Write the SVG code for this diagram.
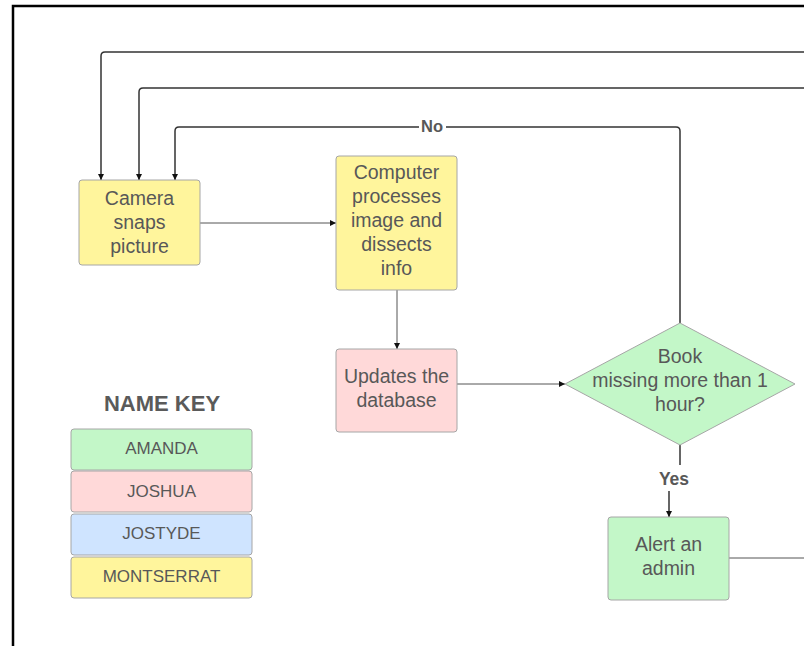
<svg xmlns="http://www.w3.org/2000/svg" width="804" height="646" viewBox="0 0 804 646">
  <style>
    .node { stroke: #a6a6a6; stroke-width: 1; }
    .yellow { fill: #fff59c; }
    .pink { fill: #ffd9d9; }
    .green { fill: #c3f7c8; }
    .blue { fill: #cfe4ff; }
    .label { font-family: "Liberation Sans", Arial, sans-serif; font-size: 19.5px; fill: #585858; text-anchor: middle; }
    .key { font-family: "Liberation Sans", Arial, sans-serif; font-size: 17px; fill: #585858; text-anchor: middle; }
    .bold { font-weight: bold; }
    .conn { fill: none; stroke: #333333; stroke-width: 1.5; }
    .thin { fill: none; stroke: #555555; stroke-width: 1; }
  </style>
  <defs>
    <marker id="arrow" viewBox="0 0 10 10" refX="10" refY="5" markerWidth="6" markerHeight="6" markerUnits="userSpaceOnUse" orient="auto">
      <path d="M0,0 L10,5 L0,10 z" fill="#111111"/>
    </marker>
  </defs>

  <rect x="0" y="0" width="804" height="646" fill="#ffffff"/>
  <!-- outer frame -->
  <path d="M13,660 L13,6 L820,6" fill="none" stroke="#000000" stroke-width="2.5"/>

  <g id="connectors">
    <path class="conn" d="M810,52 L105,52 Q101,52 101,56 L101,180" marker-end="url(#arrow)"/>
    <path class="conn" d="M810,88 L143,88 Q139,88 139,92 L139,180" marker-end="url(#arrow)"/>
    <path class="conn" d="M680,323 L680,131 Q680,127 676,127 L179,127 Q175,127 175,131 L175,180" marker-end="url(#arrow)"/>
    <rect x="419" y="118" width="27" height="17" fill="#ffffff"/>
    <text class="label bold" x="432" y="132" style="font-size:16.5px">No</text>
    <path class="thin" d="M200,223 L336,223" marker-end="url(#arrow)"/>
    <path class="thin" d="M397,290 L397,349" marker-end="url(#arrow)"/>
    <path class="thin" d="M457,384 L565,384" marker-end="url(#arrow)"/>
    <path class="conn" d="M680,445 L680,465"/>
    <text class="label bold" x="674" y="485" style="font-size:17.5px">Yes</text>
    <path class="conn" d="M669,491 L669,517" marker-end="url(#arrow)"/>
    <path class="thin" d="M729,558 L810,558"/>
  </g>

  <g id="camera">
    <rect class="node yellow" x="79" y="180" width="121" height="85" rx="3"/>
    <text class="label" x="139.5" y="205">Camera</text>
    <text class="label" x="139.5" y="229">snaps</text>
    <text class="label" x="139.5" y="253">picture</text>
  </g>

  <g id="computer">
    <rect class="node yellow" x="336" y="156" width="121" height="134" rx="3"/>
    <text class="label" x="396.5" y="179">Computer</text>
    <text class="label" x="396.5" y="203">processes</text>
    <text class="label" x="396.5" y="227">image and</text>
    <text class="label" x="396.5" y="251">dissects</text>
    <text class="label" x="396.5" y="275">info</text>
  </g>

  <g id="database">
    <rect class="node pink" x="336" y="349" width="121" height="83" rx="3"/>
    <text class="label" x="396.5" y="383">Updates the</text>
    <text class="label" x="396.5" y="407">database</text>
  </g>

  <g id="decision">
    <polygon class="node green" points="680,323 795,384 680,445 565,384"/>
    <text class="label" x="680" y="363">Book</text>
    <text class="label" x="680" y="387">missing more than 1</text>
    <text class="label" x="680" y="411">hour?</text>
  </g>

  <g id="alert">
    <rect class="node green" x="608" y="517" width="121" height="83" rx="3"/>
    <text class="label" x="668.5" y="551">Alert an</text>
    <text class="label" x="668.5" y="575">admin</text>
  </g>

  <g id="name-key">
    <text class="label bold" x="162" y="411" style="font-size:22px;fill:#5a5a5a">NAME KEY</text>
    <rect class="node green" x="71" y="429" width="181" height="41" rx="3"/>
    <text class="key" x="161.5" y="454">AMANDA</text>
    <rect class="node pink" x="71" y="471" width="181" height="41" rx="3"/>
    <text class="key" x="161.5" y="497">JOSHUA</text>
    <rect class="node blue" x="71" y="514" width="181" height="41" rx="3"/>
    <text class="key" x="161.5" y="539">JOSTYDE</text>
    <rect class="node yellow" x="71" y="557" width="181" height="41" rx="3"/>
    <text class="key" x="161.5" y="582">MONTSERRAT</text>
  </g>
</svg>
